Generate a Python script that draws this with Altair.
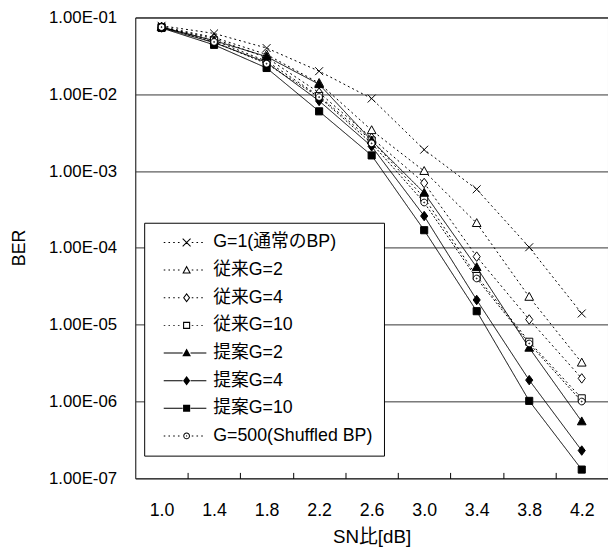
import altair as alt
import pandas as pd

# SN ratio [dB]
snr = [1.0, 1.4, 1.8, 2.2, 2.6, 3.0, 3.4, 3.8, 4.2]

series = ["G=1(通常のBP)", "従来G=2", "従来G=4", "従来G=10",
          "提案G=2", "提案G=4", "提案G=10", "G=500(Shuffled BP)"]

ber_g1 = [7.8e-2, 6.2e-2, 4.0e-2, 2.0e-2, 8.8e-3, 1.9e-3, 5.8e-4, 1.02e-4, 1.4e-5]
ber_conv2 = [7.6e-2, 5.5e-2, 3.3e-2, 1.4e-2, 3.4e-3, 1.0e-3, 2.1e-4, 2.3e-5, 3.2e-6]
ber_conv4 = [7.5e-2, 5.3e-2, 3.0e-2, 1.05e-2, 2.7e-3, 7.0e-4, 7.7e-5, 1.17e-5, 2.0e-6]
ber_conv10 = [7.5e-2, 5.0e-2, 2.7e-2, 9.5e-3, 2.5e-3, 4.5e-4, 4.3e-5, 6.0e-6, 1.1e-6]
ber_prop2 = [7.5e-2, 5.0e-2, 3.1e-2, 1.35e-2, 2.5e-3, 5.2e-4, 5.6e-5, 5.0e-6, 5.5e-7]
ber_prop4 = [7.4e-2, 4.7e-2, 2.6e-2, 8.2e-3, 2.1e-3, 2.6e-4, 2.1e-5, 1.9e-6, 2.3e-7]
ber_prop10 = [7.3e-2, 4.4e-2, 2.2e-2, 6.0e-3, 1.6e-3, 1.7e-4, 1.5e-5, 1.02e-6, 1.3e-7]
ber_shuf = [7.5e-2, 4.8e-2, 2.5e-2, 9.2e-3, 2.3e-3, 3.9e-4, 4.0e-5, 5.7e-6, 1.0e-6]

ber_all = [ber_g1, ber_conv2, ber_conv4, ber_conv10,
           ber_prop2, ber_prop4, ber_prop10, ber_shuf]

y_ticks = [1e-1, 1e-2, 1e-3, 1e-4, 1e-5, 1e-6, 1e-7]
x_labels = snr
x_inner_ticks = [1.2, 1.6, 2.0, 2.4, 2.8, 3.2, 3.6, 4.0]

rows = []
for s, vals in zip(series, ber_all):
    for x, v in zip(snr, vals):
        rows.append({"snr": x, "ber": v, "series": s})
df = pd.DataFrame(rows)

# ---- marker shapes for the plotted points (unit square coordinates) ----
m_x = "M-1,-1L1,1M-1,1L1,-1"
m_tri = "M0,-1.15L1.1,0.85L-1.1,0.85Z"
m_dia = "M0,-1.2L0.9,0L0,1.2L-0.9,0Z"
m_sq = "M-0.9,-0.9H0.9V0.9H-0.9Z"
m_circ = ("M-0.85,0A0.85,0.85,0,1,0,0.85,0A0.85,0.85,0,1,0,-0.85,0Z"
          "M-0.12,0A0.12,0.12,0,1,0,0.12,0A0.12,0.12,0,1,0,-0.12,0Z")
markers = [m_x, m_tri, m_dia, m_sq, m_tri, m_dia, m_sq, m_circ]
fills = ["white", "white", "white", "white", "black", "black", "black", "white"]
dashes = [[2, 3], [2, 3], [2, 3], [2, 3], [1, 0], [1, 0], [1, 0], [2, 2]]


# ---- legend symbols: drawn with fill only (line + marker in one path) ----
def poly(pts):
    return "M" + "L".join(f"{x:.3f},{y:.3f}" for x, y in pts) + "Z"


def ring(pts, k):
    cx = sum(p[0] for p in pts) / len(pts)
    cy = sum(p[1] for p in pts) / len(pts)
    inner = [(cx + k * (x - cx), cy + k * (y - cy)) for x, y in pts][::-1]
    return poly(pts) + poly(inner)


tri_pts = [(0, -1.15), (1.1, 0.85), (-1.1, 0.85)]
dia_pts = [(0, -1.2), (0.9, 0), (0, 1.2), (-0.9, 0)]
sq_pts = [(-0.9, -0.9), (0.9, -0.9), (0.9, 0.9), (-0.9, 0.9)]

t = 0.09
lx_x = (poly([(-1 + t, -1 - t), (1 + t, 1 - t), (1 - t, 1 + t), (-1 - t, -1 + t)]) +
        poly([(1 - t, -1 - t), (1 + t, -1 + t), (-1 + t, 1 + t), (-1 - t, 1 - t)]))
lx_tri_o = ring(tri_pts, 0.6)
lx_dia_o = ring(dia_pts, 0.64)
lx_sq_o = ring(sq_pts, 0.7)
lx_tri_f = poly(tri_pts)
lx_dia_f = poly(dia_pts)
lx_sq_f = poly(sq_pts)
lx_circ = ("M-0.85,0A0.85,0.85,0,1,0,0.85,0A0.85,0.85,0,1,0,-0.85,0Z"
           "M-0.6,0A0.6,0.6,0,1,1,0.6,0A0.6,0.6,0,1,1,-0.6,0Z"
           "M-0.16,0A0.16,0.16,0,1,0,0.16,0A0.16,0.16,0,1,0,-0.16,0Z")
legend_markers = [lx_x, lx_tri_o, lx_dia_o, lx_sq_o, lx_tri_f, lx_dia_f, lx_sq_f, lx_circ]

hw = 0.125  # half line thickness (unit coords)


def seg(a, b):
    return poly([(a, -hw), (b, -hw), (b, hw), (a, hw)])


def dotted(a, b, step=1.2, length=0.4):
    out = []
    p = a
    while p + length <= b + 1e-9:
        out.append(seg(p, p + length))
        p += step
    return "".join(out)


legend_paths = []
for m, d in zip(legend_markers, dashes):
    if d == [1, 0]:
        legend_paths.append(seg(-5.8, -1.0) + seg(1.0, 5.0) + m)
    else:
        legend_paths.append(dotted(-5.8, -1.2) + dotted(1.3, 5.0) + m)

FONT = "Liberation Sans, Noto Sans CJK JP"
W, H = 479, 467

x_scale = alt.Scale(domain=[0.8, 4.4], nice=False, zero=False)
y_scale = alt.Scale(type="log", domain=[1e-7, 1e-1], nice=False)

x_main = alt.X("snr:Q", scale=x_scale,
               axis=alt.Axis(values=x_labels, format=".1f", ticks=False, tickSize=0,
                             domain=False, grid=False, labelPadding=24,
                             labelFontSize=18, labelColor="black",
                             title="SN比[dB]", titleFontSize=19, titleFontWeight="normal",
                             titleColor="black", titlePadding=8))
y_main = alt.Y("ber:Q", scale=y_scale,
               axis=alt.Axis(values=y_ticks,
                             labelExpr="'1.00E-0' + format(-round(log(datum.value)/LN10), 'd')",
                             ticks=False, domain=False, grid=True, gridColor="#333333",
                             gridWidth=1, labelPadding=19, labelFontSize=17,
                             labelColor="black", title="BER", titleFontSize=18,
                             titleFontWeight="normal", titleColor="black",
                             titleX=-117, titleY=233, titleBaseline="middle"))

lines = alt.Chart(df).mark_line(color="black", strokeWidth=1).encode(
    x=x_main,
    y=y_main,
    strokeDash=alt.StrokeDash("series:N", scale=alt.Scale(domain=series, range=dashes),
                              legend=None),
    detail="series:N",
)

points = alt.Chart(df).mark_point(filled=True, size=64, stroke="black",
                                  strokeWidth=1, opacity=1).encode(
    x=alt.X("snr:Q", scale=x_scale,
            axis=alt.Axis(values=x_inner_ticks, orient="top", offset=-H, labels=False,
                          ticks=True, tickSize=6, tickColor="black", domain=False,
                          grid=False, title=None)),
    y=alt.Y("ber:Q", scale=y_scale),
    shape=alt.Shape("series:N", scale=alt.Scale(domain=series, range=markers),
                    legend=None),
    fill=alt.Fill("series:N", scale=alt.Scale(domain=series, range=fills),
                  legend=None),
)

leg = alt.Legend(orient="none", legendX=9, legendY=208, title=None,
                 strokeColor="black", fillColor="white", padding=11,
                 labelFontSize=18, labelFont=FONT, labelColor="black",
                 rowPadding=10, symbolSize=64, symbolStrokeWidth=0,
                 symbolFillColor="black", symbolOpacity=1,
                 symbolOffset=23, labelOffset=18,
                 labelLimit=300, cornerRadius=0)

legend_layer = alt.Chart(df).transform_filter(
    alt.datum.ber < 0
).mark_point(filled=True, color="black", size=64, strokeWidth=0, opacity=1).encode(
    shape=alt.Shape("series:N", scale=alt.Scale(domain=series, range=legend_paths),
                    legend=leg),
)

chart = alt.layer(lines, points, legend_layer).resolve_scale(
    shape="independent"
).resolve_axis(
    x="independent"
).properties(
    width=W, height=H,
    autosize=alt.AutoSizeParams(type="none"),
    padding={"left": 129, "top": 6, "right": 0, "bottom": 68},
).configure(
    font=FONT,
).configure_view(
    stroke="black", strokeWidth=1,
)

chart.save("out.html", embed_options={"renderer": "svg", "actions": False})
